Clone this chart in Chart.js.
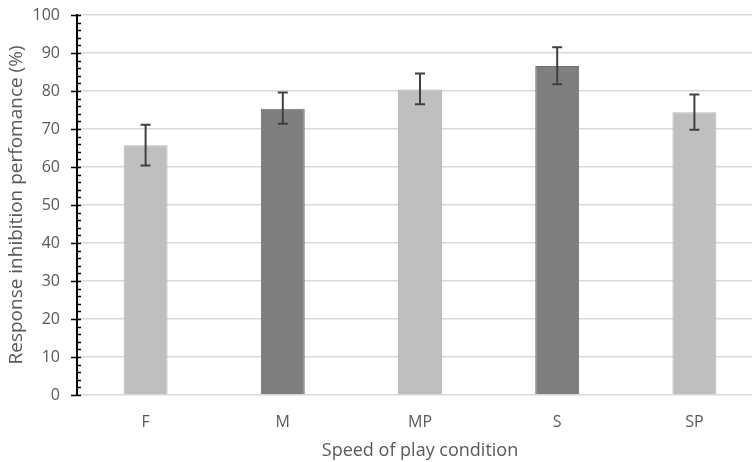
<!DOCTYPE html>
<html>
<head>
<meta charset="utf-8">
<script src="https://cdn.jsdelivr.net/npm/chart.js@4.4.1/dist/chart.umd.min.js"></script>
<style>
  html, body { margin: 0; padding: 0; background: #fff; overflow: hidden; }
  #wrap { width: 763px; height: 462px; }
</style>
</head>
<body>
<div id="wrap"><canvas id="chart"></canvas></div>
<script>
const conditions = ['F', 'M', 'MP', 'S', 'SP'];
const performance = [65.7, 75.3, 80.4, 86.6, 74.4];
const errLow = [60.4, 71.4, 76.5, 81.8, 69.8];
const errHigh = [71.1, 79.6, 84.6, 91.5, 79.1];
const barColors = ['#bfbfbf', '#7f7f7f', '#bfbfbf', '#7f7f7f', '#bfbfbf'];
const yTicks = [0, 10, 20, 30, 40, 50, 60, 70, 80, 90, 100];

const textColor = '#595959';
const fontFamily = "'Open Sans', 'Noto Sans', sans-serif";

// error bars drawn through the y scale
const errorBars = {
  id: 'errorBars',
  afterDatasetsDraw(chart) {
    const ctx = chart.ctx;
    const y = chart.scales.y;
    const meta = chart.getDatasetMeta(0);
    ctx.save();
    ctx.strokeStyle = '#404040';
    ctx.lineWidth = 2;
    meta.data.forEach((bar, i) => {
      const top = y.getPixelForValue(errHigh[i]);
      const bot = y.getPixelForValue(errLow[i]);
      ctx.beginPath();
      ctx.moveTo(bar.x, top); ctx.lineTo(bar.x, bot);
      ctx.moveTo(bar.x - 5, top); ctx.lineTo(bar.x + 5, top);
      ctx.moveTo(bar.x - 5, bot); ctx.lineTo(bar.x + 5, bot);
      ctx.stroke();
    });
    ctx.restore();
  }
};

// black y axis with major (crossing) and minor (inside) tick marks
const yAxisLine = {
  id: 'yAxisLine',
  afterDraw(chart) {
    const ctx = chart.ctx;
    const y = chart.scales.y;
    const x0 = chart.chartArea.left;
    ctx.save();
    ctx.strokeStyle = '#000';
    ctx.lineWidth = 2;
    ctx.beginPath();
    ctx.moveTo(x0, y.getPixelForValue(0) + 1);
    ctx.lineTo(x0, y.getPixelForValue(100) - 1);
    ctx.stroke();
    ctx.lineWidth = 1.5;
    for (let v = 0; v <= 100; v += 2) {
      const py = Math.round(y.getPixelForValue(v)) + 0.5;
      ctx.beginPath();
      if (v % 10 === 0) {
        ctx.moveTo(x0 - 6, py);
      } else {
        ctx.moveTo(x0, py);
      }
      ctx.lineTo(x0 + 4, py);
      ctx.stroke();
    }
    ctx.restore();
  }
};

new Chart(document.getElementById('chart'), {
  type: 'bar',
  data: {
    labels: conditions,
    datasets: [{
      data: performance,
      backgroundColor: barColors,
      borderColor: barColors.map(c => c === '#7f7f7f' ? '#707070' : '#b3b3b3'),
      borderWidth: 1,
      barPercentage: 0.32,
      categoryPercentage: 1
    }]
  },
  options: {
    responsive: true,
    maintainAspectRatio: false,
    animation: false,
    layout: { padding: { top: 15, right: 0, left: 0, bottom: 0 } },
    plugins: { legend: { display: false }, tooltip: { enabled: false } },
    scales: {
      x: {
        grid: { display: false },
        border: { display: false },
        ticks: { color: textColor, font: { family: fontFamily, size: 16 }, padding: 10 },
        title: {
          display: true,
          text: 'Speed of play condition',
          color: textColor,
          font: { family: fontFamily, size: 18 },
          padding: { top: 1, bottom: 0 }
        },
        afterFit: s => { s.height = 67; s.paddingLeft = 0; s.paddingRight = 0; }
      },
      y: {
        min: 0,
        max: 100,
        afterBuildTicks: s => { s.ticks = yTicks.map(v => ({ value: v })); },
        grid: { color: '#d9d9d9', lineWidth: 1.5, drawTicks: false },
        border: { display: false },
        ticks: { color: textColor, font: { family: fontFamily, size: 16 }, padding: 17 },
        title: {
          display: true,
          text: 'Response inhibition perfomance (%)',
          color: textColor,
          font: { family: fontFamily, size: 19 },
          padding: { top: 5, bottom: 0 }
        },
        afterFit: s => { s.width = 77; s.paddingTop = 0; s.paddingBottom = 0; }
      }
    }
  },
  plugins: [errorBars, yAxisLine]
});
</script>
</body>
</html>
